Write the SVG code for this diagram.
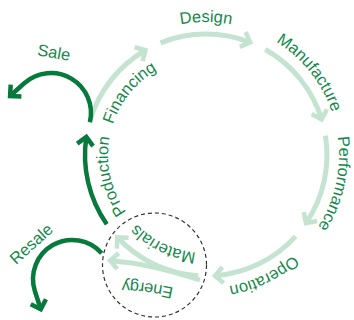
<svg xmlns="http://www.w3.org/2000/svg" width="354" height="320" viewBox="0 0 354 320">
<style>
.lbl{font-family:"Liberation Sans",Arial,Helvetica,sans-serif;font-size:16.5px;fill:#15894b}
.light{fill:none;stroke:#c4e3d0;stroke-width:5;marker-end:url(#ahl)}
.dark{fill:none;stroke:#08793c;stroke-width:4.5;marker-end:url(#ahd)}
.dash{fill:none;stroke:#333;stroke-width:1.2;stroke-dasharray:4 3}
</style>
<defs>
<marker id="ahl" markerUnits="userSpaceOnUse" viewBox="-15 -15 30 30" markerWidth="30" markerHeight="30" refX="0" refY="0" orient="auto">
<path d="M-8,-8 L0,0 L-8,8" fill="none" stroke="#c4e3d0" stroke-width="4.5"/>
</marker>
<marker id="ahd" markerUnits="userSpaceOnUse" viewBox="-15 -15 30 30" markerWidth="30" markerHeight="30" refX="0" refY="0" orient="auto">
<path d="M-8,-8 L0,0 L-8,8" fill="none" stroke="#08793c" stroke-width="4.5"/>
</marker>
<path id="pDesign" d="M104.12,69.51 A133,133 0 0 1 307.88,69.51"/>
<path id="pManufacture" d="M209.48,22.05 A133,133 0 0 1 336.33,181.52"/>
<path id="pPerformance" d="M311.52,74.03 A133,133 0 0 1 267.41,272.97"/>
<path id="pOperation" d="M334.76,188.30 A133,133 0 0 1 150.85,276.02"/>
<path id="pMaterials" d="M246.64,244.18 A98,98 0 0 1 111.12,179.54"/>
<path id="pProduction" d="M160.75,241.93 A98,98 0 0 1 128.25,95.34"/>
<path id="pFinancing" d="M109.80,173.70 A98,98 0 0 1 204.29,57.01"/>
<path id="pEnergy" d="M190,292 Q150,280 105,281"/>
</defs>

<g id="connectors">
<path class="light" d="M89.98,120.63 A121,121 0 0 1 145.5,50.21"/>
<path class="light" d="M160.54,42.86 A121,121 0 0 1 250.21,42.36"/>
<path class="light" d="M265.33,49.54 A121,121 0 0 1 321.63,119.34"/>
<path class="light" d="M325.44,135.63 A121,121 0 0 1 305.97,223.17"/>
<path class="light" d="M295.61,236.31 A121,121 0 0 1 215.03,275.66"/>
<path class="light" d="M198.30,275.75 A121,121 0 0 1 117.30,237.30"/>
<path class="light" d="M200,280 Q152,264 110,260.5"/>
<path class="dark" d="M106.77,224.27 A121,121 0 0 1 86.35,136.95"/>
<path class="dark" d="M89.9,122.2 A40,40 0 0 0 24.23,83.27 L10.1,96"/>
<path class="dark" d="M101.7,253.3 A39.2,39.2 0 0 0 34.92,291.2 L40.8,309.3"/>
</g>

<g id="hub">
<circle class="dash" cx="154.5" cy="265" r="52"/>
</g>

<g id="design"><text class="lbl"><textPath href="#pDesign" startOffset="50%" text-anchor="middle">Design</textPath></text></g>
<g id="manufacture"><text class="lbl"><textPath href="#pManufacture" startOffset="50%" text-anchor="middle">Manufacture</textPath></text></g>
<g id="performance"><text class="lbl"><textPath href="#pPerformance" startOffset="50%" text-anchor="middle">Performance</textPath></text></g>
<g id="operation"><text class="lbl"><textPath href="#pOperation" startOffset="50%" text-anchor="middle">Operation</textPath></text></g>
<g id="materials"><text class="lbl"><textPath href="#pMaterials" startOffset="50%" text-anchor="middle">Materials</textPath></text></g>
<g id="energy"><text class="lbl"><textPath href="#pEnergy" startOffset="50%" text-anchor="middle">Energy</textPath></text></g>
<g id="production"><text class="lbl"><textPath href="#pProduction" startOffset="50%" text-anchor="middle">Production</textPath></text></g>
<g id="financing"><text class="lbl"><textPath href="#pFinancing" startOffset="50%" text-anchor="middle">Financing</textPath></text></g>
<g id="sale"><text class="lbl" text-anchor="middle" transform="translate(53,58) rotate(10)">Sale</text></g>
<g id="resale"><text class="lbl" text-anchor="middle" transform="translate(35,248) rotate(-42)">Resale</text></g>
</svg>
